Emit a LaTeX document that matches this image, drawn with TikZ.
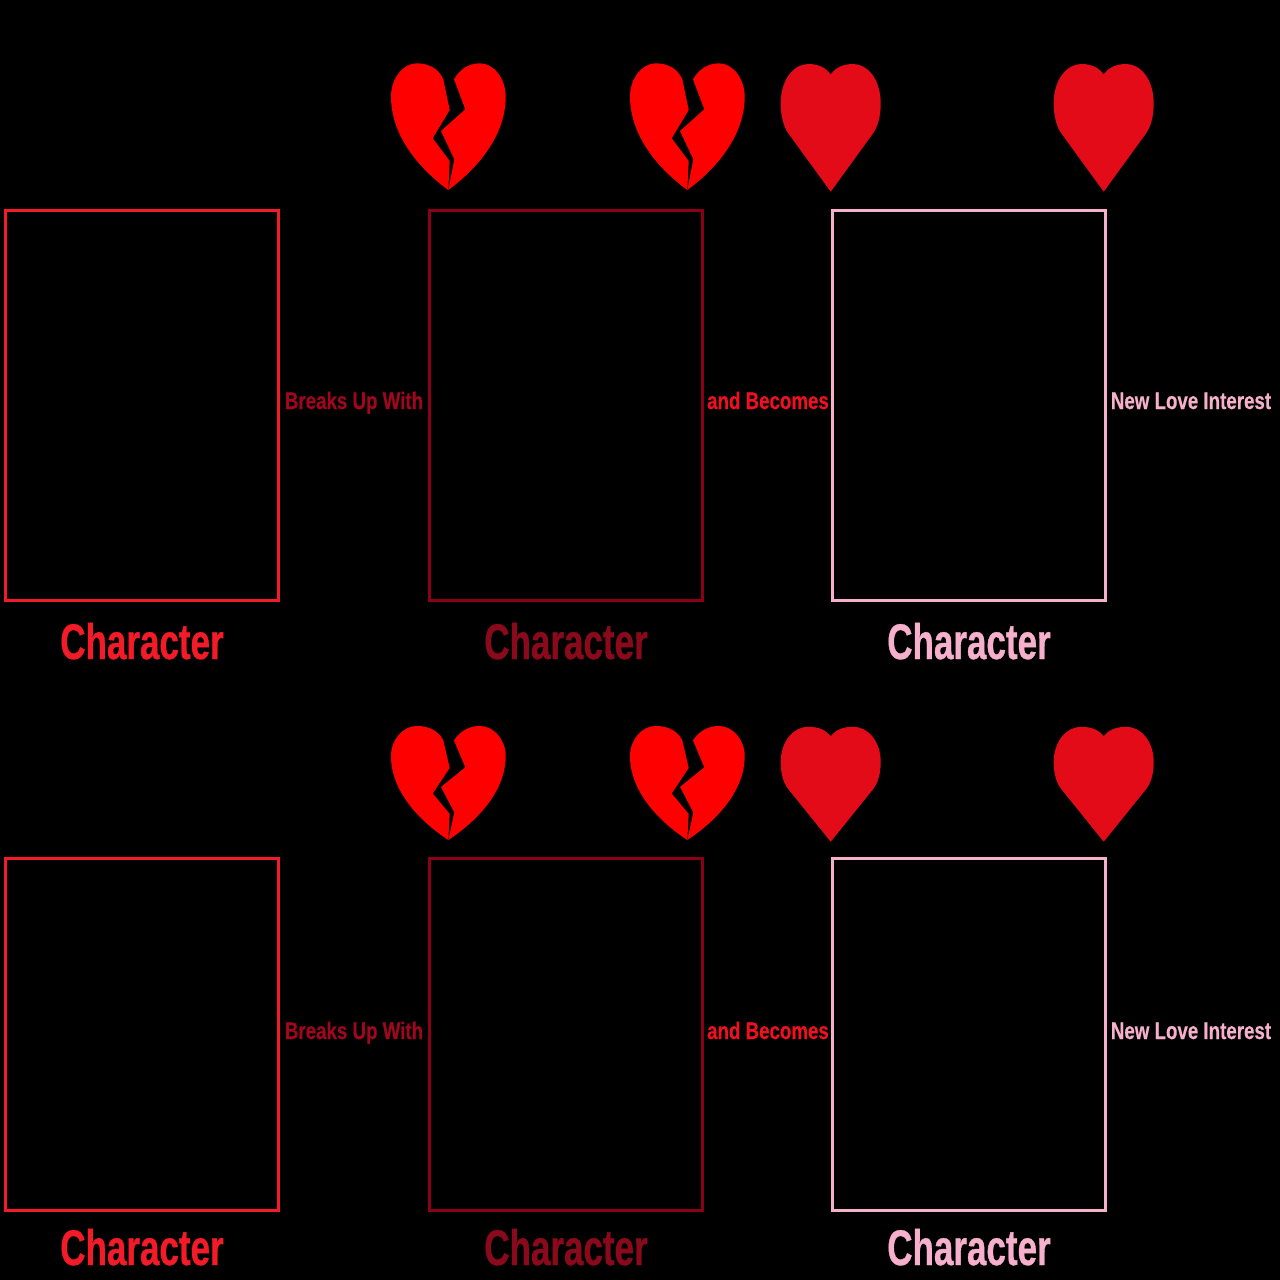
\documentclass[tikz,border=0pt]{standalone}
\usepackage{fontspec}
\setmainfont[FakeStretch=0.70,FakeBold=0.7]{Liberation Sans Bold}
\newfontfamily\smallfont[FakeStretch=0.78,FakeBold=0.3]{Liberation Sans Bold}
\definecolor{cRed}{HTML}{F31B28}
\definecolor{cDark}{HTML}{8C0016}
\definecolor{cDarkT}{HTML}{8A0A1C}
\definecolor{cDarkS}{HTML}{A0061E}
\definecolor{cPink}{HTML}{F6B0CB}
\definecolor{cHeart}{HTML}{E30B17}
\definecolor{cBecome}{HTML}{F01020}
\tikzset{
  panel/.style={draw=#1,line width=3pt,fill=none,inner sep=0pt,outer sep=0pt,anchor=north west,minimum width=273pt},
  bigtext/.style={text=#1,font=\fontsize{50}{50}\selectfont,anchor=base,inner sep=0pt},
  smalltext/.style={text=#1,font=\smallfont\fontsize{24}{24}\selectfont,anchor=base,inner sep=0pt},
  pics/brokenheart/.style={code={
    \fill[red] (0,0) .. controls (-30,-22) and (-57.3,-55) .. (-57.3,-93.3)
      .. controls (-57.3,-112) and (-45,-126.7) .. (-31.6,-126.7)
      .. controls (-18,-126.7) and (-9,-120) .. (-5,-110.7)
      -- (1.4,-80) -- (-15.6,-51.7) -- (1.4,-29) -- cycle;
    \fill[red] (0,0) .. controls (30,-22) and (57.4,-55) .. (57.4,-93.3)
      .. controls (57.4,-112) and (45,-126.7) .. (31.7,-126.7)
      .. controls (20,-126.7) and (11,-120) .. (5.7,-110.7)
      -- (17,-80.7) -- (-7.3,-59) -- (6,-30.7) -- cycle;
  }},
  pics/wholeheart/.style={code={
    \fill[cHeart] (0,0) -- (-42.4,-58.4)
      .. controls (-47,-65) and (-50,-75) .. (-50,-88.4)
      .. controls (-50,-112) and (-37,-127.7) .. (-22.4,-127.7)
      .. controls (-11,-127.7) and (-4,-123) .. (0,-117.4)
      .. controls (4,-123) and (11,-127.7) .. (22.4,-127.7)
      .. controls (37,-127.7) and (50,-112) .. (50,-88.4)
      .. controls (50,-75) and (47,-65) .. (42.4,-58.4) -- cycle;
  }}
}
\begin{document}
\begin{tikzpicture}[x=1pt,y=-1pt]
\fill[black] (0,0) rectangle (1280,1280);
\useasboundingbox (0,0) rectangle (1280,1280);
% top row
\pic at (448.3,190) {brokenheart};
\pic at (687.3,190) {brokenheart};
\pic at (830.7,191.7) {wholeheart};
\pic at (1103.7,191.7) {wholeheart};
\node[panel=cRed,minimum height=390pt] (a1) at (5.5,210.5) {};
\node[panel=cDark,minimum height=390pt] (b1) at (429.5,210.5) {};
\node[panel=cPink,minimum height=390pt] (c1) at (832.5,210.5) {};
\node[bigtext=cRed] (ta1) at (142,659) {Character};
\node[bigtext=cDarkT] (tb1) at (566,659) {Character};
\node[bigtext=cPink] (tc1) at (969,659) {Character};
\node[smalltext=cDarkS] (s1) at (354,409) {Breaks Up With};
\node[smalltext=cBecome] (s2) at (768,409) {and Becomes};
\node[smalltext=cPink] (s3) at (1191,409) {New Love Interest};
% bottom row
\pic[yscale=0.9] at (448.3,840) {brokenheart};
\pic[yscale=0.9] at (687.3,840) {brokenheart};
\pic[yscale=0.9] at (830.7,841.7) {wholeheart};
\pic[yscale=0.9] at (1103.7,841.7) {wholeheart};
\node[panel=cRed,minimum height=352pt] (a2) at (5.5,858.5) {};
\node[panel=cDark,minimum height=352pt] (b2) at (429.5,858.5) {};
\node[panel=cPink,minimum height=352pt] (c2) at (832.5,858.5) {};
\node[bigtext=cRed] (ta2) at (142,1265) {Character};
\node[bigtext=cDarkT] (tb2) at (566,1265) {Character};
\node[bigtext=cPink] (tc2) at (969,1265) {Character};
\node[smalltext=cDarkS] (s4) at (354,1039) {Breaks Up With};
\node[smalltext=cBecome] (s5) at (768,1039) {and Becomes};
\node[smalltext=cPink] (s6) at (1191,1039) {New Love Interest};
\end{tikzpicture}
\end{document}
